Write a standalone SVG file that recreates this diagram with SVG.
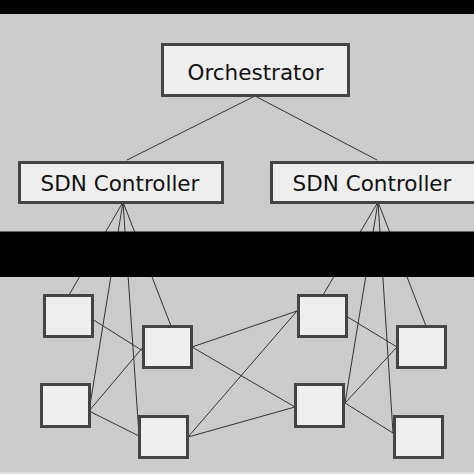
<svg xmlns="http://www.w3.org/2000/svg" width="474" height="474" viewBox="0 0 474 474">
<style>
.box{fill:#eeeeee;stroke:#444444;stroke-width:3}
.lbl{font-family:"DejaVu Sans",Verdana,sans-serif;font-size:21.5px;fill:#111111;text-anchor:middle}
.cn line{stroke:#333333;stroke-width:1}
</style>
<rect x="0" y="0" width="474" height="474" fill="#cccccc"/>
<rect x="0" y="0" width="474" height="14" fill="#000000"/>
<rect x="0" y="472" width="474" height="2" fill="#dddddd"/>
<g id="connectors" class="cn">
<line x1="255" y1="96" x2="127" y2="160"/>
<line x1="255" y1="96" x2="377" y2="160"/>
<line x1="123" y1="202" x2="69" y2="295"/>
<line x1="123" y1="202" x2="90" y2="405"/>
<line x1="123" y1="202" x2="139" y2="435"/>
<line x1="123" y1="202" x2="171" y2="326"/>
<line x1="378" y1="202" x2="323" y2="295"/>
<line x1="378" y1="202" x2="345" y2="403"/>
<line x1="378" y1="202" x2="393" y2="433"/>
<line x1="378" y1="202" x2="426" y2="326"/>
<line x1="92" y1="319" x2="143" y2="351"/>
<line x1="89" y1="411" x2="143" y2="347"/>
<line x1="89" y1="411" x2="139" y2="436"/>
<line x1="192" y1="347" x2="297" y2="311"/>
<line x1="192" y1="347" x2="295" y2="407"/>
<line x1="188" y1="437" x2="297" y2="311"/>
<line x1="188" y1="437" x2="295" y2="407"/>
<line x1="346" y1="316" x2="397" y2="347"/>
<line x1="345" y1="403" x2="397" y2="347"/>
<line x1="345" y1="403" x2="393" y2="433"/>
</g>
<rect x="0" y="231.5" width="474" height="45.5" fill="#000000"/>
<g id="orchestrator">
<rect class="box" x="162.5" y="44.5" width="186" height="51"/>
<text class="lbl" x="255.5" y="79.5">Orchestrator</text>
</g>
<g id="sdn-left">
<rect class="box" x="19.5" y="162.5" width="203" height="40"/>
<text class="lbl" x="120" y="190.5">SDN Controller</text>
</g>
<g id="sdn-right">
<rect class="box" x="271.5" y="162.5" width="204" height="40"/>
<text class="lbl" x="372" y="190.5">SDN Controller</text>
</g>
<g id="n1"><rect class="box" x="44.5" y="295.5" width="48" height="41"/></g>
<g id="n2"><rect class="box" x="143.5" y="326.5" width="48" height="41"/></g>
<g id="n3"><rect class="box" x="41.5" y="384.5" width="48" height="42"/></g>
<g id="n4"><rect class="box" x="139.5" y="416.5" width="48" height="41"/></g>
<g id="n5"><rect class="box" x="298.5" y="295.5" width="48" height="41"/></g>
<g id="n6"><rect class="box" x="397.5" y="326.5" width="48" height="41"/></g>
<g id="n7"><rect class="box" x="295.5" y="384.5" width="48" height="42"/></g>
<g id="n8"><rect class="box" x="394.5" y="416.5" width="48" height="41"/></g>
</svg>
